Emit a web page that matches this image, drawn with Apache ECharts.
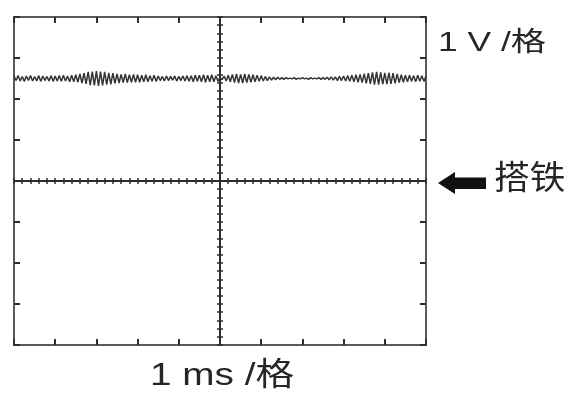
<!DOCTYPE html>
<html>
<head>
<meta charset="utf-8">
<script src="https://cdn.jsdelivr.net/npm/echarts@6/dist/echarts.min.js"></script>
<style>
  html, body { margin: 0; padding: 0; background: #fff; }
  #chart { width: 569px; height: 396px; }
</style>
</head>
<body>
<div id="chart"></div>
<script>
// 时间轴 -5 ~ 5 ms，每 0.05 ms 一个采样点
const tStart = -5;
const tStep = 0.05;
// 电压读数 (V)，从图上逐段读出
const volts = [
  2.56, 2.45, 2.57, 2.44, 2.55, 2.43, 2.56, 2.45, 2.57, 2.44,
  2.55, 2.44, 2.57, 2.43, 2.56, 2.45, 2.55, 2.44, 2.57, 2.43,
  2.56, 2.44, 2.57, 2.43, 2.58, 2.44, 2.56, 2.42, 2.58, 2.42,
  2.59, 2.41, 2.61, 2.39, 2.63, 2.37, 2.66, 2.34, 2.67, 2.33,
  2.68, 2.32, 2.67, 2.33, 2.66, 2.35, 2.64, 2.36, 2.63, 2.38,
  2.61, 2.39, 2.60, 2.40, 2.61, 2.40, 2.59, 2.41, 2.60, 2.41,
  2.59, 2.41, 2.58, 2.42, 2.59, 2.42, 2.57, 2.43, 2.58, 2.43,
  2.56, 2.45, 2.55, 2.44, 2.56, 2.45, 2.55, 2.46, 2.56, 2.44,
  2.55, 2.45, 2.56, 2.44, 2.57, 2.43, 2.57, 2.42, 2.58, 2.43,
  2.58, 2.42, 2.59, 2.41, 2.58, 2.42, 2.59, 2.42, 2.57, 2.43,
  2.53, 2.47, 2.56, 2.44, 2.58, 2.42, 2.60, 2.40, 2.61, 2.39,
  2.60, 2.39, 2.61, 2.40, 2.60, 2.41, 2.59, 2.42, 2.58, 2.43,
  2.57, 2.44, 2.55, 2.45, 2.54, 2.46, 2.53, 2.47, 2.53, 2.48,
  2.52, 2.48, 2.52, 2.49, 2.51, 2.49, 2.52, 2.48, 2.51, 2.49,
  2.52, 2.49, 2.51, 2.48, 2.52, 2.49, 2.51, 2.49, 2.52, 2.48,
  2.52, 2.48, 2.53, 2.47, 2.54, 2.46, 2.54, 2.45, 2.55, 2.45,
  2.56, 2.44, 2.57, 2.43, 2.58, 2.42, 2.59, 2.41, 2.60, 2.40,
  2.62, 2.38, 2.63, 2.37, 2.65, 2.35, 2.66, 2.35, 2.65, 2.36,
  2.64, 2.36, 2.64, 2.37, 2.63, 2.38, 2.61, 2.40, 2.59, 2.41,
  2.58, 2.42, 2.58, 2.43, 2.57, 2.42, 2.58, 2.43, 2.57, 2.43,
  2.56
];
// 坐标范围：10 格 x 8 格
const xRange = [-5, 5];
const yRange = [-4, 4];

const lineColor = '#2e2e2e';
const font = '"Liberation Sans", "Noto Sans CJK SC", sans-serif';

const chart = echarts.init(document.getElementById('chart'));

// 外框 + 每格刻度
function frameAxis(position, min, max) {
  return {
    type: 'value',
    position: position,
    min: min,
    max: max,
    interval: 1,
    axisLine: { show: true, onZero: false, lineStyle: { color: '#5a5a5a', width: 2 } },
    axisTick: { show: true, inside: true, length: 6, lineStyle: { color: lineColor, width: 2 } },
    axisLabel: { show: false },
    splitLine: { show: false },
  };
}

// 中心十字线 + 0.2 格小刻度
function centerAxis(position, min, max, inside) {
  return {
    type: 'value',
    position: position,
    min: min,
    max: max,
    interval: 0.2,
    axisLine: { show: true, onZero: true, onZeroAxisIndex: 0, lineStyle: { color: lineColor, width: 2 } },
    axisTick: { show: true, inside: inside, length: 3, lineStyle: { color: lineColor, width: 1.5 } },
    axisLabel: { show: false },
    splitLine: { show: false },
  };
}

const option = {
  animation: false,
  backgroundColor: '#fff',
  grid: { left: 14, right: 143, top: 17, bottom: 51 },
  xAxis: [
    frameAxis('bottom', xRange[0], xRange[1]),
    frameAxis('top', xRange[0], xRange[1]),
    centerAxis('bottom', xRange[0], xRange[1], true),
    centerAxis('bottom', xRange[0], xRange[1], false),
  ],
  yAxis: [
    frameAxis('left', yRange[0], yRange[1]),
    frameAxis('right', yRange[0], yRange[1]),
    centerAxis('left', yRange[0], yRange[1], true),
    centerAxis('left', yRange[0], yRange[1], false),
  ],
  series: [
    {
      type: 'line',
      xAxisIndex: 0,
      yAxisIndex: 0,
      data: volts.map((v, i) => [tStart + i * tStep, v]),
      showSymbol: false,
      lineStyle: { color: '#333', width: 1.5 },
      z: 5,
    },
  ],
  graphic: [
    {
      type: 'text',
      x: 438,
      y: 44,
      scaleX: 1.31,
      style: { text: '1 V /格', font: '27px ' + font, fill: '#262626', verticalAlign: 'middle' },
    },
    {
      type: 'polygon',
      shape: {
        points: [[438, 183], [455, 172], [455, 177.5], [486, 177.5], [486, 189], [455, 189], [455, 194]],
      },
      style: { fill: '#111' },
    },
    {
      type: 'text',
      x: 494,
      y: 180,
      scaleX: 1.08,
      style: { text: '搭铁', font: '33px ' + font, fill: '#262626', verticalAlign: 'middle' },
    },
    {
      type: 'text',
      x: 150,
      y: 376,
      scaleX: 1.21,
      style: { text: '1 ms /格', font: '32px ' + font, fill: '#262626', verticalAlign: 'middle' },
    },
  ],
};

chart.setOption(option);

window.addEventListener('resize', () => {
  chart.resize();
});
</script>
</body>
</html>
